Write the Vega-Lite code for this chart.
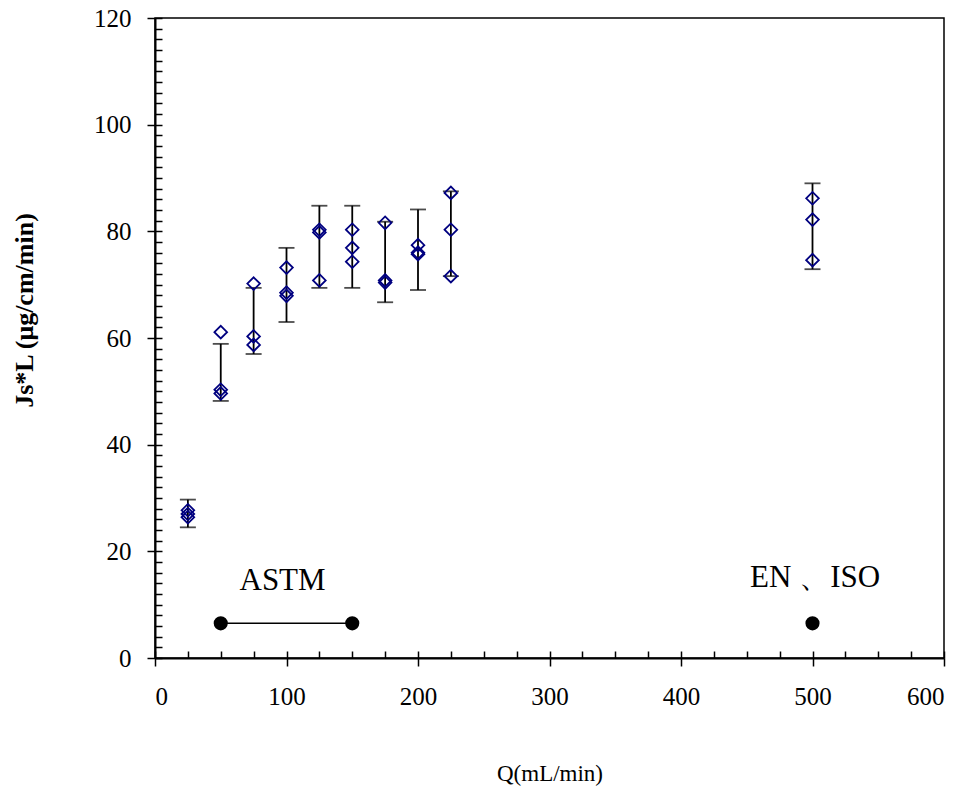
{
  "$schema": "https://vega.github.io/schema/vega-lite/v6.json",
  "autosize": "none",
  "width": 789,
  "height": 640,
  "padding": {"left": 155, "top": 18, "right": 25, "bottom": 136},
  "background": "white",
  "config": {
    "view": {"stroke": "black", "strokeWidth": 1.5},
    "font": "Liberation Serif",
    "axis": {"grid": false, "domainColor": "black", "domainWidth": 2, "tickColor": "black", "tickWidth": 1.5, "labelColor": "black", "titleColor": "black", "labelFont": "Liberation Serif", "titleFont": "Liberation Serif"}
  },
  "datasets": {
    "pts": [
      {"Q": 25, "J": 27.7}, {"Q": 25, "J": 27.0}, {"Q": 25, "J": 26.4},
      {"Q": 50, "J": 61.1}, {"Q": 50, "J": 50.3}, {"Q": 50, "J": 49.6},
      {"Q": 75, "J": 70.2}, {"Q": 75, "J": 60.3}, {"Q": 75, "J": 58.7},
      {"Q": 100, "J": 73.2}, {"Q": 100, "J": 68.5}, {"Q": 100, "J": 67.9},
      {"Q": 125, "J": 80.3}, {"Q": 125, "J": 79.8}, {"Q": 125, "J": 70.8},
      {"Q": 150, "J": 80.3}, {"Q": 150, "J": 76.9}, {"Q": 150, "J": 74.3},
      {"Q": 175, "J": 81.6}, {"Q": 175, "J": 70.8}, {"Q": 175, "J": 70.4},
      {"Q": 200, "J": 77.4}, {"Q": 200, "J": 76.0}, {"Q": 200, "J": 75.7},
      {"Q": 225, "J": 87.2}, {"Q": 225, "J": 80.3}, {"Q": 225, "J": 71.6},
      {"Q": 500, "J": 86.2}, {"Q": 500, "J": 82.2}, {"Q": 500, "J": 74.6}
    ],
    "err": [
      {"Q": 25, "lo": 24.5, "hi": 29.7},
      {"Q": 50, "lo": 48.2, "hi": 58.9},
      {"Q": 75, "lo": 57.0, "hi": 69.4},
      {"Q": 100, "lo": 63.0, "hi": 76.9},
      {"Q": 125, "lo": 69.4, "hi": 84.8},
      {"Q": 150, "lo": 69.4, "hi": 84.8},
      {"Q": 175, "lo": 66.7, "hi": 81.8},
      {"Q": 200, "lo": 69.0, "hi": 84.1},
      {"Q": 225, "lo": 71.6, "hi": 87.5},
      {"Q": 500, "lo": 72.9, "hi": 89.0}
    ],
    "std": [
      {"Q": 50, "J": 6.5, "name": "ASTM"},
      {"Q": 150, "J": 6.5, "name": "ASTM"},
      {"Q": 500, "J": 6.5, "name": "EN"}
    ],
    "astmline": [{"Q": 50, "Q2": 150, "J": 6.5}],
    "labels": [
      {"Q": 97, "J": 14.4, "text": "ASTM"},
      {"Q": 502, "J": 15.0, "text": "EN 、ISO"}
    ]
  },
  "resolve": {"axis": {"x": "independent", "y": "independent"}},
  "layer": [
    {
      "data": {"name": "err"},
      "mark": {"type": "rule", "color": "black", "strokeWidth": 1.8},
      "encoding": {
        "x": {"field": "Q", "type": "quantitative", "scale": {"domain": [0, 600], "nice": false},
          "axis": {"orient": "bottom", "values": [0, 100, 200, 300, 400, 500, 600], "tickSize": 8, "labelFontSize": 25, "labelPadding": 18, "title": "Q(mL/min)", "titleFontSize": 23, "titleFontWeight": "normal", "titleY": 115, "titleBaseline": "middle"}},
        "y": {"field": "lo", "type": "quantitative", "scale": {"domain": [0, 120], "nice": false},
          "axis": {"orient": "left", "values": [0, 20, 40, 60, 80, 100, 120], "tickSize": 8, "labelFontSize": 25, "labelPadding": 16, "title": "Js*L (μg/cm/min)", "titleFontSize": 26, "titleFontWeight": "bold", "titleX": -131, "titleY": 292, "titleBaseline": "middle", "titleAlign": "center"}},
        "y2": {"field": "hi"}
      }
    },
    {
      "data": {"name": "err"},
      "mark": {"type": "tick", "orient": "horizontal", "color": "black", "size": 16, "thickness": 1.8},
      "encoding": {
        "x": {"field": "Q", "type": "quantitative",
          "axis": {"orient": "bottom", "values": [0, 25, 50, 75, 100, 125, 150, 175, 200, 225, 250, 275, 300, 325, 350, 375, 400, 425, 450, 475, 500, 525, 550, 575, 600], "tickSize": -7, "labels": false, "domain": false, "title": null}},
        "y": {"field": "lo", "type": "quantitative",
          "axis": {"orient": "left", "values": [0, 2, 4, 6, 8, 10, 12, 14, 16, 18, 20, 22, 24, 26, 28, 30, 32, 34, 36, 38, 40, 42, 44, 46, 48, 50, 52, 54, 56, 58, 60, 62, 64, 66, 68, 70, 72, 74, 76, 78, 80, 82, 84, 86, 88, 90, 92, 94, 96, 98, 100, 102, 104, 106, 108, 110, 112, 114, 116, 118, 120], "tickSize": -7, "labels": false, "domain": false, "title": null}}
      }
    },
    {
      "data": {"name": "err"},
      "mark": {"type": "tick", "orient": "horizontal", "color": "black", "size": 16, "thickness": 1.8},
      "encoding": {
        "x": {"field": "Q", "type": "quantitative", "axis": null},
        "y": {"field": "hi", "type": "quantitative", "axis": null}
      }
    },
    {
      "data": {"name": "pts"},
      "mark": {"type": "point", "shape": "diamond", "filled": false, "color": "#000080", "strokeWidth": 1.8, "size": 160, "opacity": 1},
      "encoding": {
        "x": {"field": "Q", "type": "quantitative", "axis": null},
        "y": {"field": "J", "type": "quantitative", "axis": null}
      }
    },
    {
      "data": {"name": "astmline"},
      "mark": {"type": "rule", "color": "black", "strokeWidth": 1.5},
      "encoding": {
        "x": {"field": "Q", "type": "quantitative", "axis": null},
        "x2": {"field": "Q2"},
        "y": {"field": "J", "type": "quantitative", "axis": null}
      }
    },
    {
      "data": {"name": "std"},
      "mark": {"type": "circle", "color": "black", "size": 200, "opacity": 1},
      "encoding": {
        "x": {"field": "Q", "type": "quantitative", "axis": null},
        "y": {"field": "J", "type": "quantitative", "axis": null}
      }
    },
    {
      "data": {"name": "labels"},
      "mark": {"type": "text", "font": "Liberation Serif", "fontSize": 31, "color": "black", "align": "center", "baseline": "middle"},
      "encoding": {
        "x": {"field": "Q", "type": "quantitative", "axis": null},
        "y": {"field": "J", "type": "quantitative", "axis": null},
        "text": {"field": "text"}
      }
    }
  ]
}
